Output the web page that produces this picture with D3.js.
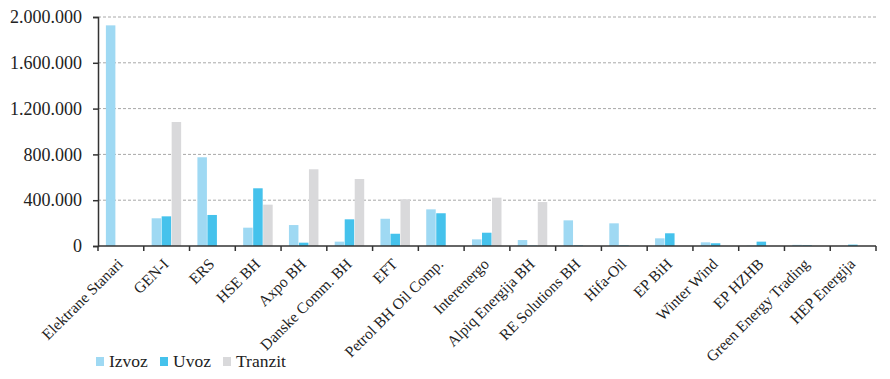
<!DOCTYPE html>
<html>
<head>
<meta charset="utf-8">
<script src="https://cdn.jsdelivr.net/npm/d3@7"></script>
<style>
	body { margin: 0; background: #fff; }
	svg text { font-family: "Liberation Serif", "Times New Roman", serif; fill: #222; }
</style>
</head>
<body>
<div id="root"></div>
<script>
const companies	= ['Elektrane Stanari', 'GEN-I', 'ERS', 'HSE BH', 'Axpo BH', 'Danske Comm. BH', 'EFT', 'Petrol BH Oil Comp.', 'Interenergo', 'Alpiq Energija BH', 'RE Solutions BH', 'Hifa-Oil', 'EP BiH', 'Winter Wind', 'EP HZHB', 'Green Energy Trading', 'HEP Energija'];
const series	= ['Izvoz', 'Uvoz', 'Tranzit'];
const colors	= ['#9fd9f3', '#45c2ec', '#d9d9db'];

const izvoz		= [1927000, 242000, 775000, 160000, 183000, 38000, 238000, 320000, 58000, 52000, 224000, 198000, 67000, 32000, 3000, 10000, 0];
const uvoz		= [0, 259000, 271000, 504000, 29000, 233000, 107000, 286000, 116000, 3000, 5000, 5000, 111000, 24000, 38000, 6000, 12000];
const tranzit	= [0, 1083000, 0, 361000, 670000, 585000, 408000, 0, 422000, 384000, 0, 0, 0, 0, 0, 0, 0];

const yTicks	= [0, 400000, 800000, 1200000, 1600000, 2000000];

const font		= '"Liberation Serif", "Times New Roman", serif';

const margin	= { top: 17, right: 14, bottom: 133, left: 98 };
const canvasWidth	= 890;
const canvasHeight	= 379;
const width		= canvasWidth - margin.left - margin.right;
const height	= canvasHeight - margin.top - margin.bottom;

const fmt		= (v) => d3.format(',')(v).replace(/,/g, '.');

const svg		= d3.select('#root').append('svg')
	.attr('width', canvasWidth)
	.attr('height', canvasHeight);

const g			= svg.append('g').attr('transform', 'translate(' + margin.left + ',' + margin.top + ')');

const x			= d3.scaleBand().domain(companies).range([0, width]);
const xs		= d3.scaleBand().domain(series).range([0, 30]);
const y			= d3.scaleLinear().domain([0, 2000000]).range([height, 0]);

// dashed grid
g.selectAll('.grid').data(yTicks.slice(1)).enter().append('line')
	.attr('x1', 0).attr('x2', width)
	.attr('y1', (d) => y(d)).attr('y2', (d) => y(d))
	.attr('stroke', '#a8a8a8')
	.attr('stroke-dasharray', '3,2')
	.attr('stroke-width', 1);

const values	= [izvoz, uvoz, tranzit];
const groups	= g.selectAll('.group').data(companies).enter().append('g')
	.attr('transform', (d) => 'translate(' + (x(d) + (x.bandwidth() - 30) / 2) + ',0)');

groups.selectAll('rect').data((d, i) => series.map((s, k) => ({ s: s, k: k, v: values[k][i] }))).enter().append('rect')
	.attr('x', (d) => xs(d.s))
	.attr('width', xs.bandwidth() - 0.5)
	.attr('y', (d) => y(d.v))
	.attr('height', (d) => height - y(d.v))
	.attr('fill', (d) => colors[d.k]);

// y axis
const yAxis		= g.append('g')
	.call(d3.axisLeft(y).tickValues(yTicks).tickFormat(fmt).tickSize(5).tickPadding(11))
	.attr('font-family', null);
yAxis.select('.domain').attr('stroke', '#333').attr('stroke-width', 1.5);
yAxis.selectAll('.tick line').attr('stroke', '#333').attr('stroke-width', 1.5);
yAxis.selectAll('text').style('font-family', font).style('font-size', '18px').attr('fill', '#222');

// x axis
const xAxisG	= g.append('g').attr('transform', 'translate(0,' + height + ')');
xAxisG.append('line').attr('x1', 0).attr('x2', width).attr('stroke', '#333').attr('stroke-width', 1.5);
xAxisG.selectAll('.tk').data(d3.range(companies.length + 1)).enter().append('line')
	.attr('x1', (d) => d * x.step()).attr('x2', (d) => d * x.step())
	.attr('y1', 0).attr('y2', 5)
	.attr('stroke', '#333').attr('stroke-width', 1.5);

xAxisG.selectAll('.lbl').data(companies).enter().append('text')
	.attr('text-anchor', 'end')
	.style('font-family', font)
	.style('font-size', '15.5px')
	.attr('transform', (d) => 'translate(' + (x(d) + x.bandwidth() / 2 + 3) + ',19) rotate(-45)')
	.text((d) => d);

// legend
const legend	= svg.append('g').attr('transform', 'translate(96,357)');
const legendX	= [0, 64, 127];
series.forEach((s, k) => {
	const item	= legend.append('g').attr('transform', 'translate(' + legendX[k] + ',0)');
	item.append('rect').attr('width', 8).attr('height', 9).attr('fill', colors[k]);
	item.append('text').attr('x', 13).attr('y', 10).style('font-family', font).style('font-size', '17.5px').text(s);
});
</script>
</body>
</html>
